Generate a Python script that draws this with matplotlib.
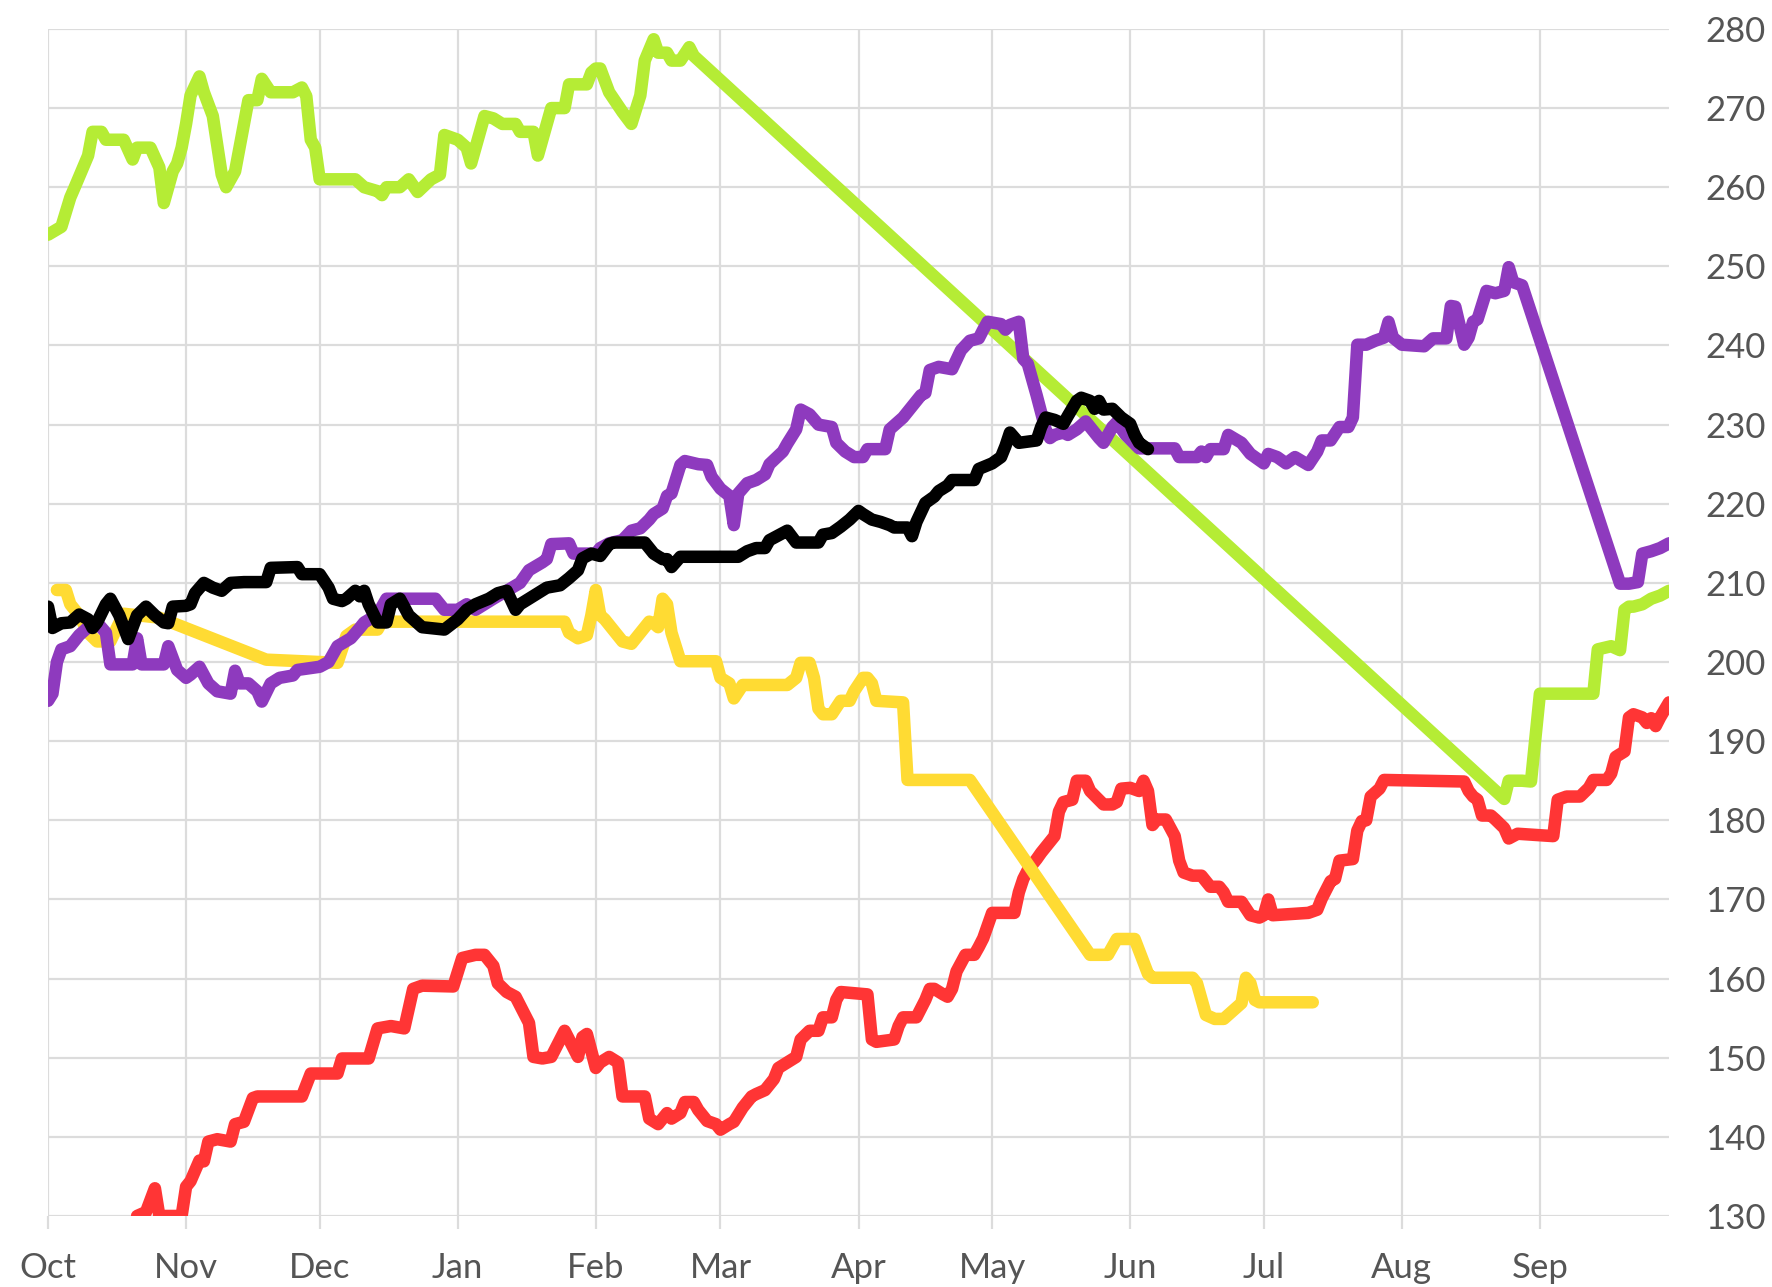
import matplotlib
matplotlib.use("Agg")
import matplotlib.pyplot as plt
import pandas as pd


def to_dates(md):
    # Oct-Dec are 2022, Jan-Sep are 2023
    return pd.to_datetime([("2022-" if int(s[:2]) >= 10 else "2023-") + s for s in md])


green_dates = ["10-01", "10-04", "10-06", "10-07", "10-10", "10-11", "10-13", "10-14", "10-18", "10-20",
               "10-21", "10-24", "10-26", "10-27", "10-29", "10-30", "10-31", "11-01", "11-02", "11-04",
               "11-05", "11-07", "11-09", "11-10", "11-12", "11-14", "11-15", "11-17", "11-18", "11-20",
               "11-22", "11-25", "11-27", "11-28", "11-29", "11-30", "12-01", "12-03", "12-05", "12-09",
               "12-11", "12-14", "12-15", "12-16", "12-19", "12-21", "12-23", "12-26", "12-28", "12-29",
               "01-01", "01-03", "01-04", "01-05", "01-07", "01-09", "01-11", "01-14", "01-15", "01-18",
               "01-19", "01-20", "01-22", "01-23", "01-25", "01-26", "01-29", "01-30", "01-31", "02-01",
               "02-02", "02-04", "02-07", "02-09", "02-11", "02-12", "02-14", "02-15", "02-17", "02-18",
               "02-20", "02-22", "02-23", "08-24", "08-25", "08-28", "08-30", "09-01", "09-04", "09-13",
               "09-14", "09-17", "09-19", "09-20", "09-21", "09-22", "09-24", "09-26", "09-28", "09-30"]
green_vals = [254, 255, 258.7, 260, 264, 267, 267, 266, 266, 263.5,
              265, 265, 262.5, 258, 262, 263, 265, 268, 271.6, 274,
              272, 269, 261.6, 260, 262, 268, 271, 271, 273.7, 272,
              272, 272, 272.6, 271.5, 266, 265, 261, 261, 261, 261,
              260, 259.5, 259, 260, 260, 261, 259.4, 261, 261.6, 266.6,
              266, 265, 263, 265, 269, 268.7, 268, 268, 267, 267,
              264, 266, 270, 270, 270, 273, 273, 273, 274.5, 275,
              275, 272, 269.5, 268, 271.6, 276, 278.7, 277, 277, 276,
              276, 277.7, 276.6, 182.7, 185, 185, 184.9, 196, 196, 196,
              201.6, 202, 201.5, 206.6, 207, 207, 207.3, 208, 208.4, 209]

purple_dates = ["10-01", "10-02", "10-03", "10-04", "10-06", "10-08", "10-10", "10-12", "10-14", "10-15",
                "10-20", "10-21", "10-22", "10-27", "10-28", "10-30", "11-01", "11-02", "11-04", "11-06",
                "11-08", "11-11", "11-12", "11-13", "11-15", "11-17", "11-18", "11-20", "11-22", "11-25",
                "11-26", "12-01", "12-03", "12-05", "12-08", "12-10", "12-11", "12-14", "12-16", "12-27",
                "12-29", "01-01", "01-03", "01-05", "01-07", "01-09", "01-12", "01-15", "01-17", "01-20",
                "01-21", "01-22", "01-26", "01-27", "02-01", "02-02", "02-04", "02-07", "02-09", "02-11",
                "02-13", "02-14", "02-16", "02-17", "02-18", "02-20", "02-21", "02-24", "02-26", "02-27",
                "03-01", "03-03", "03-04", "03-05", "03-07", "03-09", "03-11", "03-12", "03-15", "03-16",
                "03-18", "03-19", "03-21", "03-23", "03-26", "03-27", "03-29", "03-31", "04-02", "04-03",
                "04-07", "04-08", "04-11", "04-13", "04-15", "04-16", "04-17", "04-19", "04-22", "04-24",
                "04-26", "04-28", "04-29", "04-30", "05-03", "05-04", "05-05", "05-07", "05-08", "05-09",
                "05-11", "05-13", "05-14", "05-15", "05-17", "05-18", "05-20", "05-22", "05-23", "05-25",
                "05-26", "05-28", "05-29", "05-31", "06-03", "06-11", "06-12", "06-16", "06-17", "06-18",
                "06-19", "06-22", "06-23", "06-26", "06-28", "07-01", "07-02", "07-04", "07-06", "07-08",
                "07-11", "07-13", "07-14", "07-16", "07-18", "07-20", "07-21", "07-22", "07-24", "07-26",
                "07-28", "07-29", "07-30", "08-01", "08-06", "08-08", "08-11", "08-12", "08-13", "08-15",
                "08-16", "08-17", "08-18", "08-20", "08-22", "08-24", "08-25", "08-26", "08-28", "09-19",
                "09-21", "09-23", "09-24", "09-26", "09-28", "09-30"]
purple_vals = [195.1, 196, 200, 201.6, 202, 203.4, 204.4, 205, 203.7, 199.7,
               199.7, 203, 199.7, 199.7, 202, 199, 198, 198.4, 199.4, 197.3,
               196.3, 196, 198.9, 197.3, 197.3, 196.3, 195, 197.3, 198, 198.3,
               199, 199.4, 200, 202, 203, 204.3, 205, 206, 208, 208,
               206.6, 206.6, 207.3, 206.6, 207.3, 208, 209, 210, 211.6, 212.6,
               213, 214.9, 215, 213.7, 213.7, 214.4, 215, 215.4, 216.6, 216.9,
               218, 218.7, 219.4, 221, 221.3, 224.9, 225.4, 225, 224.9, 223.4,
               221.9, 221, 217.3, 221.3, 222.6, 223, 223.7, 225, 226.6, 227.6,
               229.4, 231.9, 231.3, 230, 229.7, 227.7, 226.6, 225.9, 225.9, 226.9,
               226.9, 229.4, 230.9, 232.3, 233.7, 234, 236.9, 237.3, 237, 239.4,
               240.6, 240.9, 242, 243, 242.7, 242, 242.6, 243, 238.3, 237.7,
               233.7, 229.4, 228.3, 228.7, 229, 228.7, 229.4, 230.4, 229.7, 228.3,
               227.7, 229.7, 230.3, 228.7, 227, 227, 225.9, 225.9, 226.6, 225.9,
               226.9, 226.9, 228.7, 227.7, 226.3, 225.1, 226.3, 225.9, 225.1, 225.9,
               224.9, 226.6, 228, 228, 229.7, 229.7, 230.9, 240.1, 240.1, 240.6,
               241, 243, 241, 240.1, 239.9, 240.9, 240.9, 245, 244.9, 240.1,
               241, 243, 243.3, 246.9, 246.6, 246.9, 249.9, 248, 247.6, 209.9,
               209.9, 210.1, 213.7, 214, 214.4, 215]

black_dates = ["10-01", "10-02", "10-04", "10-06", "10-08", "10-10", "10-11", "10-12", "10-14", "10-15",
               "10-17", "10-18", "10-19", "10-21", "10-23", "10-25", "10-27", "10-28", "10-29", "11-01",
               "11-02", "11-03", "11-05", "11-07", "11-09", "11-11", "11-14", "11-19", "11-20", "11-26",
               "11-27", "12-01", "12-03", "12-04", "12-06", "12-07", "12-09", "12-10", "12-11", "12-12",
               "12-14", "12-16", "12-17", "12-19", "12-21", "12-24", "12-29", "01-01", "01-03", "01-05",
               "01-08", "01-10", "01-12", "01-14", "01-15", "01-17", "01-19", "01-21", "01-24", "01-26",
               "01-28", "01-29", "01-31", "02-02", "02-04", "02-05", "02-12", "02-14", "02-16", "02-17",
               "02-18", "02-20", "03-05", "03-07", "03-09", "03-11", "03-12", "03-15", "03-16", "03-18",
               "03-23", "03-24", "03-26", "03-28", "03-30", "04-01", "04-02", "04-04", "04-06", "04-08",
               "04-09", "04-12", "04-13", "04-14", "04-16", "04-18", "04-19", "04-21", "04-22", "04-27",
               "04-28", "05-01", "05-03", "05-04", "05-05", "05-07", "05-11", "05-12", "05-13", "05-15",
               "05-17", "05-18", "05-20", "05-21", "05-23", "05-24", "05-25", "05-26", "05-28", "05-30",
               "06-01", "06-02", "06-03", "06-04", "06-05"]
black_vals = [207, 204.3, 204.9, 205, 206, 205.4, 204.3, 205, 207.3, 208,
              205.9, 204.4, 202.9, 205.9, 207, 205.9, 205, 204.9, 207, 207.1,
              207.3, 208.7, 210, 209.4, 209, 210, 210.1, 210.1, 211.9, 212,
              211.1, 211.1, 209.4, 208, 207.7, 208, 209, 208.3, 209, 207.3,
              205, 205, 207.3, 208, 205.9, 204.4, 204.1, 205.4, 206.6, 207.3,
              208, 208.7, 209, 206.6, 207.3, 208, 208.7, 209.4, 209.7, 210.6,
              211.6, 213.1, 213.7, 213.4, 214.9, 215.1, 215.1, 213.7, 213, 213,
              212, 213.3, 213.3, 214, 214.4, 214.4, 215.4, 216.3, 216.6, 215.1,
              215.1, 216.1, 216.3, 217.1, 218, 219.1, 218.7, 218, 217.7, 217.3,
              217, 217, 215.9, 217.7, 220.1, 220.9, 221.6, 222.3, 223, 223,
              224.4, 225.1, 225.9, 227.3, 229, 227.7, 228, 229.7, 230.9, 230.6,
              230.1, 231.1, 233, 233.4, 233, 232, 233, 231.9, 232, 230.9,
              230.1, 228.7, 227.7, 227.3, 226.9]

yellow_dates = ["10-03", "10-05", "10-06", "10-08", "10-10", "10-12", "10-15", "10-18", "10-26", "11-19",
                "12-05", "12-07", "12-09", "12-14", "12-15", "01-25", "01-26", "01-28", "01-30", "01-31",
                "02-01", "02-02", "02-03", "02-05", "02-07", "02-09", "02-11", "02-13", "02-14", "02-15",
                "02-16", "02-17", "02-18", "02-20", "02-28", "03-01", "03-03", "03-04", "03-06", "03-16",
                "03-18", "03-19", "03-21", "03-22", "03-23", "03-24", "03-26", "03-28", "03-30", "03-31",
                "04-02", "04-03", "04-04", "04-05", "04-11", "04-12", "04-26", "05-23", "05-27", "05-29",
                "06-02", "06-05", "06-06", "06-15", "06-16", "06-18", "06-20", "06-22", "06-24", "06-26",
                "06-27", "06-28", "06-29", "06-30", "07-12"]
yellow_vals = [209.1, 209.1, 207.3, 205.9, 203.7, 202.6, 202.6, 206.1, 205.6, 200.3,
               199.9, 203.3, 204.1, 204.1, 205.1, 205.1, 203.7, 203, 203.4, 205.9,
               209.1, 205.9, 205.4, 204, 202.6, 202.3, 203.7, 205.1, 204.9, 204.4,
               208, 207.3, 203.7, 200.1, 200.1, 198, 197.3, 195.4, 197.1, 197.1,
               198, 199.9, 199.9, 198, 194.1, 193.4, 193.4, 195.1, 195.1, 196.3,
               198, 198, 197.3, 195.1, 194.9, 185.1, 185.1, 163, 163, 165,
               165, 160.6, 160.1, 160.1, 159.4, 155.4, 154.9, 154.9, 155.9, 156.9,
               160.1, 159.4, 157.3, 157, 157]

red_dates = ["10-21", "10-23", "10-25", "10-26", "10-31", "11-01", "11-02", "11-04", "11-05", "11-06",
             "11-08", "11-11", "11-12", "11-14", "11-16", "11-17", "11-27", "11-29", "12-05", "12-06",
             "12-12", "12-14", "12-17", "12-20", "12-22", "12-24", "12-31", "01-02", "01-05", "01-07",
             "01-09", "01-10", "01-12", "01-14", "01-15", "01-17", "01-18", "01-20", "01-22", "01-24",
             "01-25", "01-26", "01-28", "01-29", "01-30", "02-01", "02-02", "02-04", "02-06", "02-07",
             "02-12", "02-13", "02-15", "02-17", "02-18", "02-20", "02-21", "02-23", "02-24", "02-26",
             "02-28", "03-01", "03-03", "03-04", "03-06", "03-08", "03-09", "03-11", "03-13", "03-14",
             "03-16", "03-18", "03-19", "03-21", "03-23", "03-24", "03-26", "03-27", "03-28", "04-03",
             "04-04", "04-05", "04-09", "04-10", "04-11", "04-14", "04-16", "04-17", "04-18", "04-20",
             "04-21", "04-22", "04-23", "04-25", "04-27", "04-28", "04-29", "05-01", "05-06", "05-07",
             "05-08", "05-09", "05-11", "05-12", "05-14", "05-15", "05-16", "05-17", "05-19", "05-20",
             "05-22", "05-23", "05-26", "05-28", "05-29", "05-30", "06-01", "06-03", "06-04", "06-05",
             "06-06", "06-07", "06-09", "06-11", "06-12", "06-13", "06-15", "06-17", "06-18", "06-19",
             "06-21", "06-22", "06-23", "06-26", "06-28", "06-30", "07-01", "07-02", "07-03", "07-11",
             "07-13", "07-14", "07-16", "07-17", "07-18", "07-21", "07-22", "07-23", "07-24", "07-25",
             "07-27", "07-28", "08-15", "08-16", "08-17", "08-18", "08-19", "08-21", "08-22", "08-24",
             "08-25", "08-27", "09-04", "09-05", "09-07", "09-10", "09-12", "09-13", "09-16", "09-17",
             "09-18", "09-20", "09-21", "09-22", "09-24", "09-25", "09-26", "09-27", "09-28", "09-30"]
red_vals = [130, 130.5, 133.5, 130, 130, 133.7, 134.4, 137, 136.9, 139.4,
            139.7, 139.4, 141.6, 141.9, 144.9, 145.1, 145.1, 148, 148, 149.9,
            149.9, 153.7, 154, 153.7, 158.7, 159.1, 159, 162.6, 163, 163,
            161.6, 159.4, 158.3, 157.7, 156.6, 154.4, 150.1, 149.9, 150.1, 152.3,
            153.4, 152.3, 150.1, 152.6, 153, 148.7, 149.4, 150.1, 149.4, 145.1,
            145.1, 142.3, 141.6, 143, 142.3, 143, 144.4, 144.4, 143.4, 142,
            141.6, 140.9, 141.6, 141.9, 143.7, 145.1, 145.4, 145.9, 147.3, 148.7,
            149.4, 150.1, 152.3, 153.4, 153.4, 155.1, 155.1, 157.3, 158.3, 158,
            152.3, 152, 152.3, 154, 155.1, 155.1, 157.3, 158.7, 158.7, 158,
            157.7, 158.7, 160.9, 163, 163, 164, 165.1, 168.3, 168.3, 170.9,
            172.6, 173.7, 175.1, 175.9, 177.3, 178, 181.1, 182.3, 182.6, 185,
            185, 183.7, 182, 182, 182.3, 184, 184.1, 183.7, 185, 183.7,
            179.4, 180.1, 180.1, 178, 174.9, 173.4, 173, 173, 172.3, 171.6,
            171.6, 170.9, 169.7, 169.7, 168, 167.7, 168, 170, 168, 168.3,
            168.7, 170.1, 172.3, 172.6, 174.9, 175.1, 178.7, 179.9, 180, 183,
            184, 185.1, 184.9, 183.7, 183, 182.6, 180.6, 180.6, 180.1, 179,
            177.7, 178.3, 178, 182.6, 183, 183, 184.1, 185.1, 185.1, 185.9,
            188, 188.7, 193, 193.4, 193, 192.3, 192.9, 191.9, 193, 194.9]

month_labels = ["Oct", "Nov", "Dec", "Jan", "Feb", "Mar", "Apr", "May", "Jun", "Jul", "Aug", "Sep"]
y_ticks = list(range(130, 290, 10))

plt.rcParams['font.family'] = ['Lato', 'DejaVu Sans']

fig = plt.figure(figsize=(17.72, 12.87), dpi=100)
ax = fig.add_axes([0.0271, 0.0552, 0.9148, 0.9223])

lw = 9
style = dict(linewidth=lw, solid_capstyle='round', solid_joinstyle='round')
ax.plot(to_dates(red_dates), red_vals, color='#ff3535', zorder=2, **style)
ax.plot(to_dates(yellow_dates), yellow_vals, color='#ffdb33', zorder=3, **style)
ax.plot(to_dates(green_dates), green_vals, color='#b5ec35', zorder=4, **style)
ax.plot(to_dates(purple_dates), purple_vals, color='#8e3abe', zorder=5, **style)
ax.plot(to_dates(black_dates), black_vals, color='#000000', zorder=6, **style)

ax.set_xlim(pd.Timestamp("2022-10-01"), pd.Timestamp("2023-09-30"))
ax.set_ylim(130, 280)

month_starts = pd.date_range("2022-10-01", periods=12, freq="MS")
ax.set_xticks(month_starts)
ax.set_xticklabels(month_labels)
ax.set_yticks(y_ticks)
ax.yaxis.tick_right()

ax.grid(True, color='#dcdcdc', linewidth=1.6)
ax.set_axisbelow(True)
for sp in ax.spines.values():
    sp.set_visible(False)

ax.tick_params(axis='x', length=9, width=1.6, color='#dcdcdc', pad=17,
               labelsize=25, labelcolor='#555555')
ax.tick_params(axis='y', length=0, pad=26, labelsize=25, labelcolor='#555555')

fig.savefig("out.png", dpi=100, facecolor='white')
